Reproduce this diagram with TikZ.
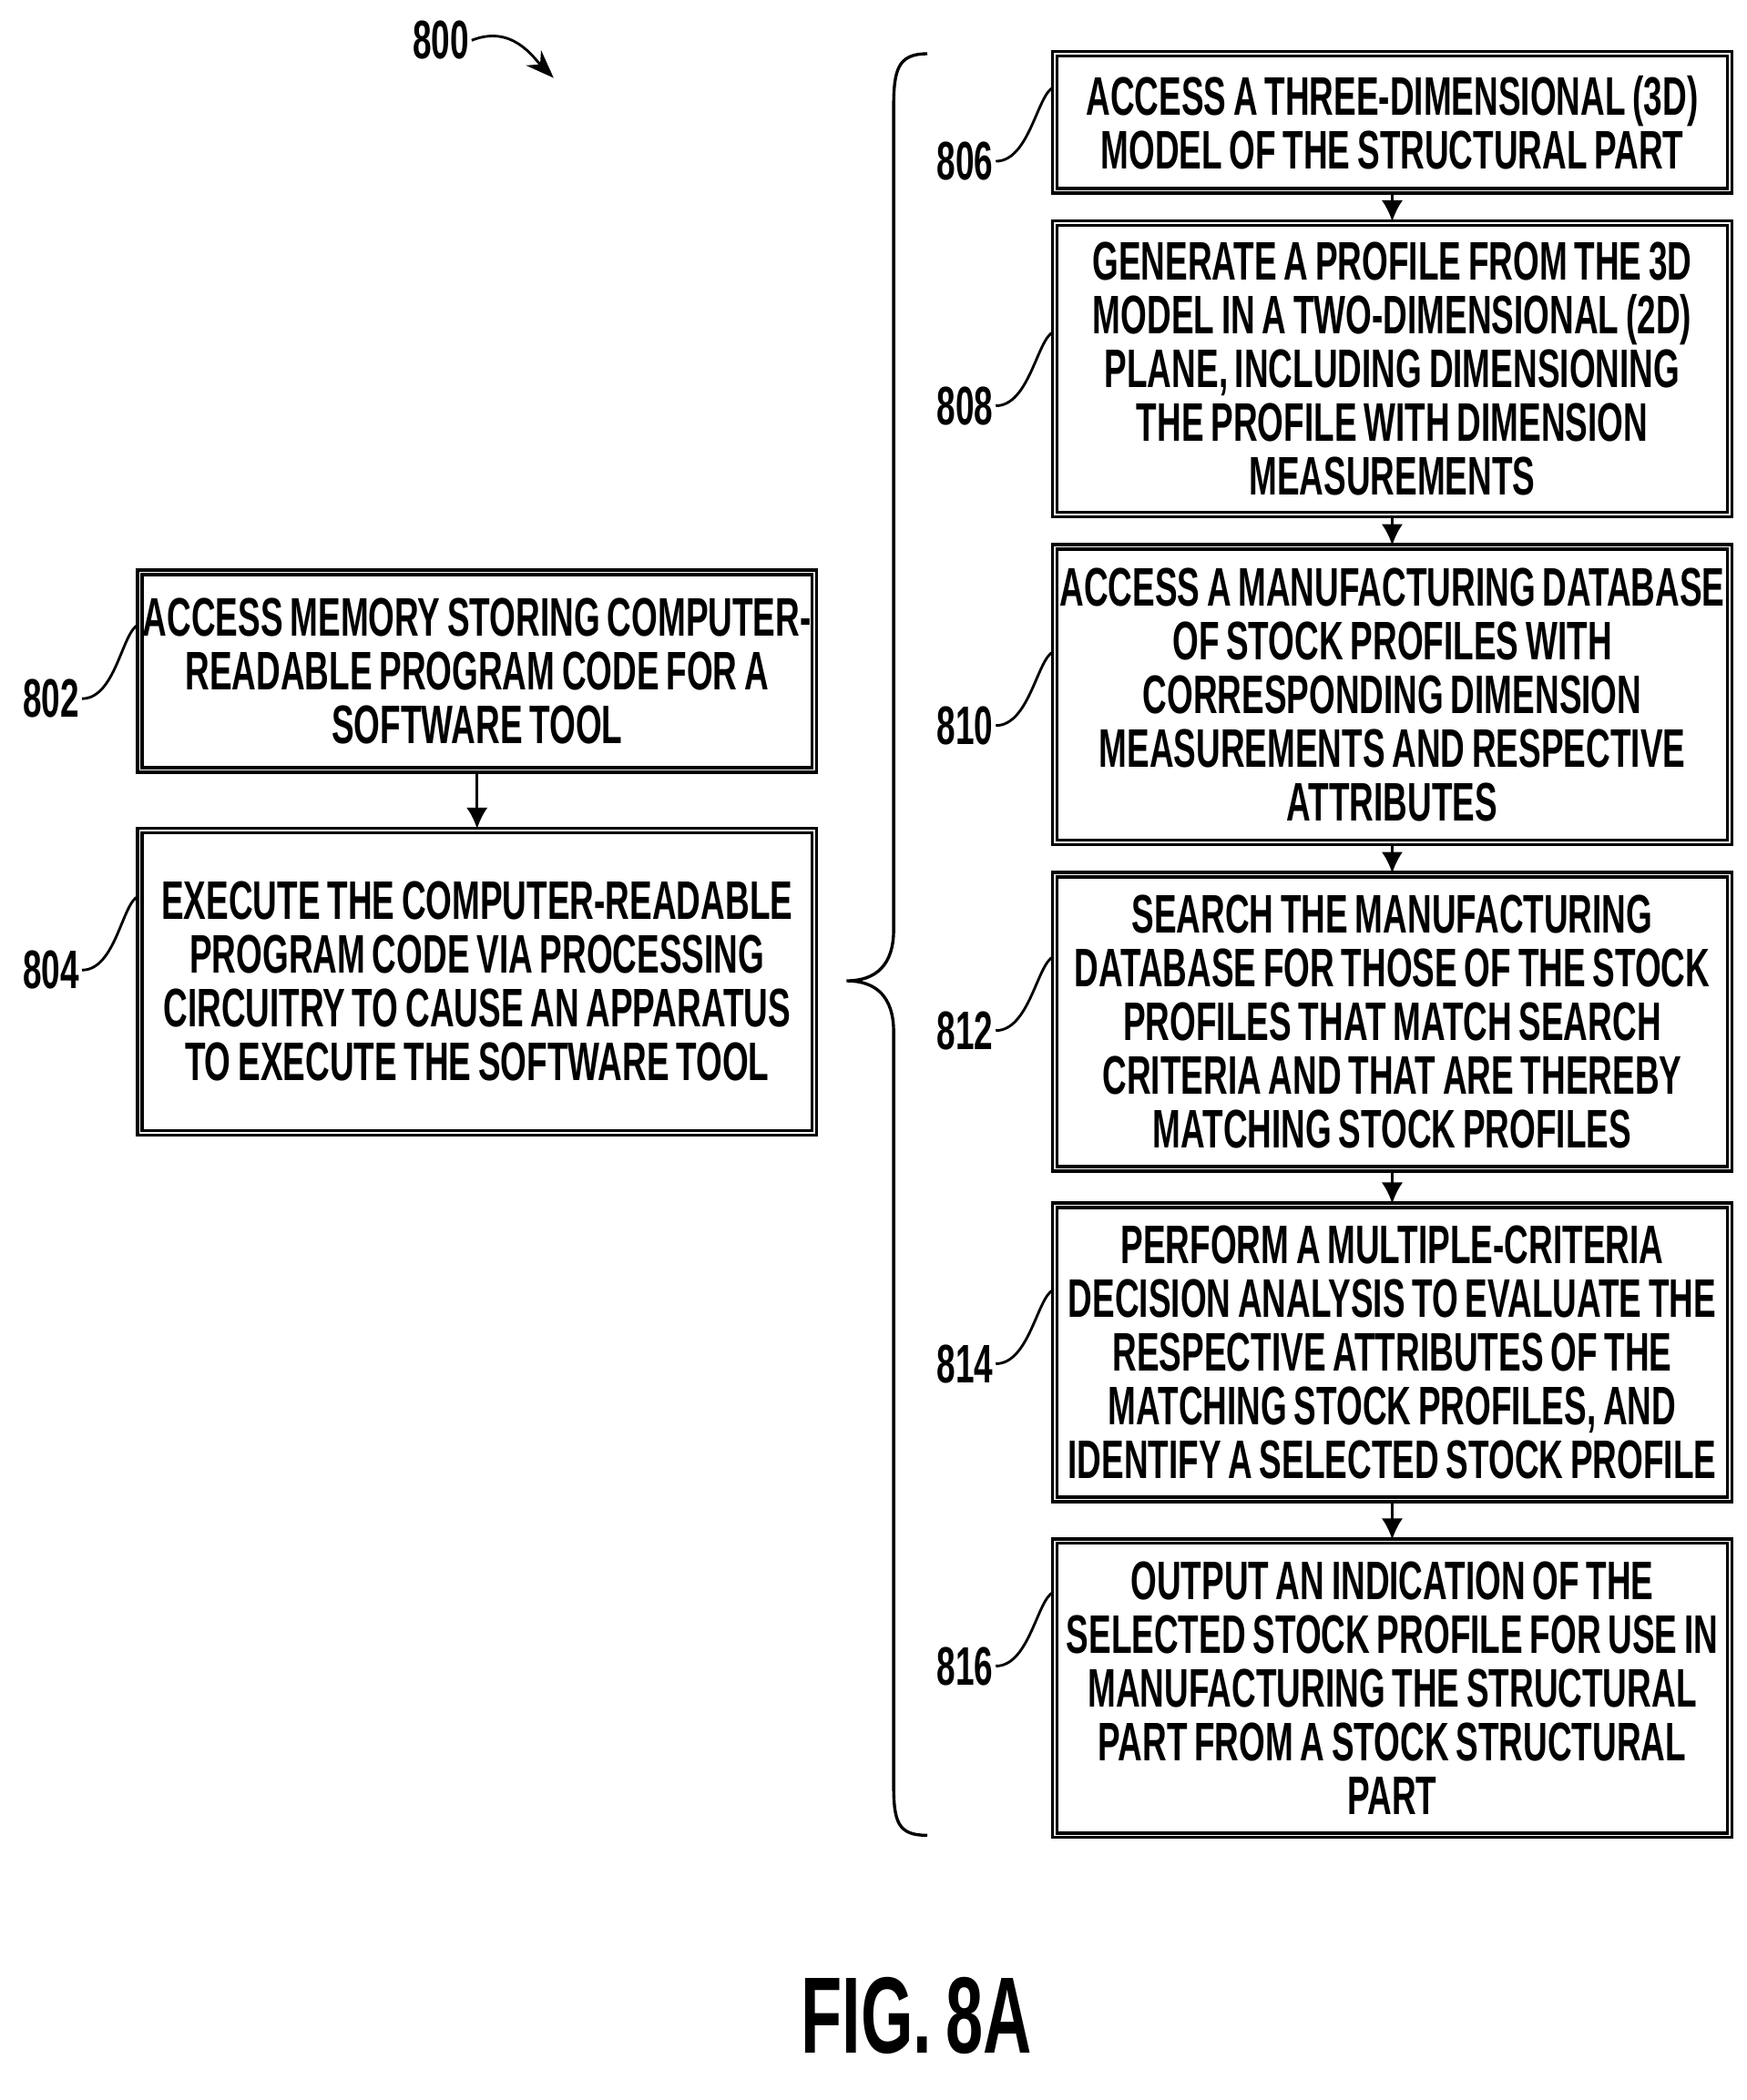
\documentclass[tikz,border=0pt]{standalone}
\usepackage{fontspec}
\setmainfont{Liberation Sans}[FakeStretch=0.62, WordSpace=0.75]
\usetikzlibrary{positioning, arrows.meta}

\begin{document}
\begin{tikzpicture}[
    x=0.02cm, y=-0.02cm,
    % Styles
    stepbox/.style={draw, line width=1.3pt, double, double distance=0.6pt, minimum width=10.04cm, align=center, inner sep=0pt, font=\fontsize{23}{22.8}\selectfont\bfseries},
    ref/.style={font=\fontsize{23}{23}\selectfont\bfseries, inner sep=1pt},
    lead/.style={line width=1.1pt},
    arrow/.style={-{Latex[length=9pt,width=9pt]}, line width=1.1pt},
]
\useasboundingbox (0,0) rectangle (1300,1563);

% Right column
\node[stepbox, minimum height=2.04cm] (s806) at (1036,91) {ACCESS A THREE-DIMENSIONAL (3D)\\MODEL OF THE STRUCTURAL PART};
\node[stepbox, minimum height=4.34cm] (s808) at (1036,274.5) {GENERATE A PROFILE FROM THE 3D\\MODEL IN A TWO-DIMENSIONAL (2D)\\PLANE, INCLUDING DIMENSIONING\\THE PROFILE WITH DIMENSION\\MEASUREMENTS};
\node[stepbox, minimum height=4.4cm] (s810) at (1036,517) {ACCESS A MANUFACTURING DATABASE\\OF STOCK PROFILES WITH\\CORRESPONDING DIMENSION\\MEASUREMENTS AND RESPECTIVE\\ATTRIBUTES};
\node[stepbox, minimum height=4.38cm] (s812) at (1036,760.5) {SEARCH THE MANUFACTURING\\DATABASE FOR THOSE OF THE STOCK\\PROFILES THAT MATCH SEARCH\\CRITERIA AND THAT ARE THEREBY\\MATCHING STOCK PROFILES};
\node[stepbox, minimum height=4.38cm] (s814) at (1036,1006.5) {PERFORM A MULTIPLE-CRITERIA\\DECISION ANALYSIS TO EVALUATE THE\\RESPECTIVE ATTRIBUTES OF THE\\MATCHING STOCK PROFILES, AND\\IDENTIFY A SELECTED STOCK PROFILE};
\node[stepbox, minimum height=4.38cm] (s816) at (1036,1256.5) {OUTPUT AN INDICATION OF THE\\SELECTED STOCK PROFILE FOR USE IN\\MANUFACTURING THE STRUCTURAL\\PART FROM A STOCK STRUCTURAL\\PART};
\foreach \a/\b in {806/808, 808/810, 810/812, 812/814, 814/816}
    \draw[arrow] (s\a) -- (s\b);

% Left column
\node[stepbox, minimum height=2.94cm] (s802) at (355,499.5) {ACCESS MEMORY STORING COMPUTER-\\READABLE PROGRAM CODE FOR A\\SOFTWARE TOOL};
\node[stepbox, minimum height=4.5cm] (s804) at (355,730.5) {EXECUTE THE COMPUTER-READABLE\\PROGRAM CODE VIA PROCESSING\\CIRCUITRY TO CAUSE AN APPARATUS\\TO EXECUTE THE SOFTWARE TOOL};
\draw[arrow] (s802) -- (s804);

% Brace
\draw[line width=1.3pt] (690,40) .. controls (668,40) and (665,52) .. (665,80) -- (665,692)
    .. controls (665,718) and (652,730) .. (630,730)
    .. controls (652,730) and (665,742) .. (665,768) -- (665,1328)
    .. controls (665,1356) and (668,1366) .. (690,1366);

% Reference numerals
\foreach \n/\y in {806/120, 808/302, 810/540, 812/767, 814/1015, 816/1240}{
    \node[ref] (r\n) at (718,\y) {\n};
    \draw[lead] (r\n.east) .. controls +(25,0) and +(-12,5) .. ([yshift=1.1cm]r\n.east -| s\n.west);
}
\foreach \n/\y in {802/520, 804/722}{
    \node[ref] (r\n) at (38,\y) {\n};
    \draw[lead] (r\n.east) .. controls +(25,0) and +(-12,5) .. ([yshift=1.1cm]r\n.east -| s\n.west);
}

% Figure number
\node[ref] (r800) at (328,30) {800};
\coordinate (a800) at (412,58);
\draw[lead, -{Stealth[length=12pt,width=9pt]}] (r800.east) .. controls +(30,-12) and +(-15,-15) .. (a800);
\node[font=\fontsize{46}{46}\selectfont\bfseries] (fig) at (682,1500) {FIG. 8A};

\end{tikzpicture}
\end{document}
